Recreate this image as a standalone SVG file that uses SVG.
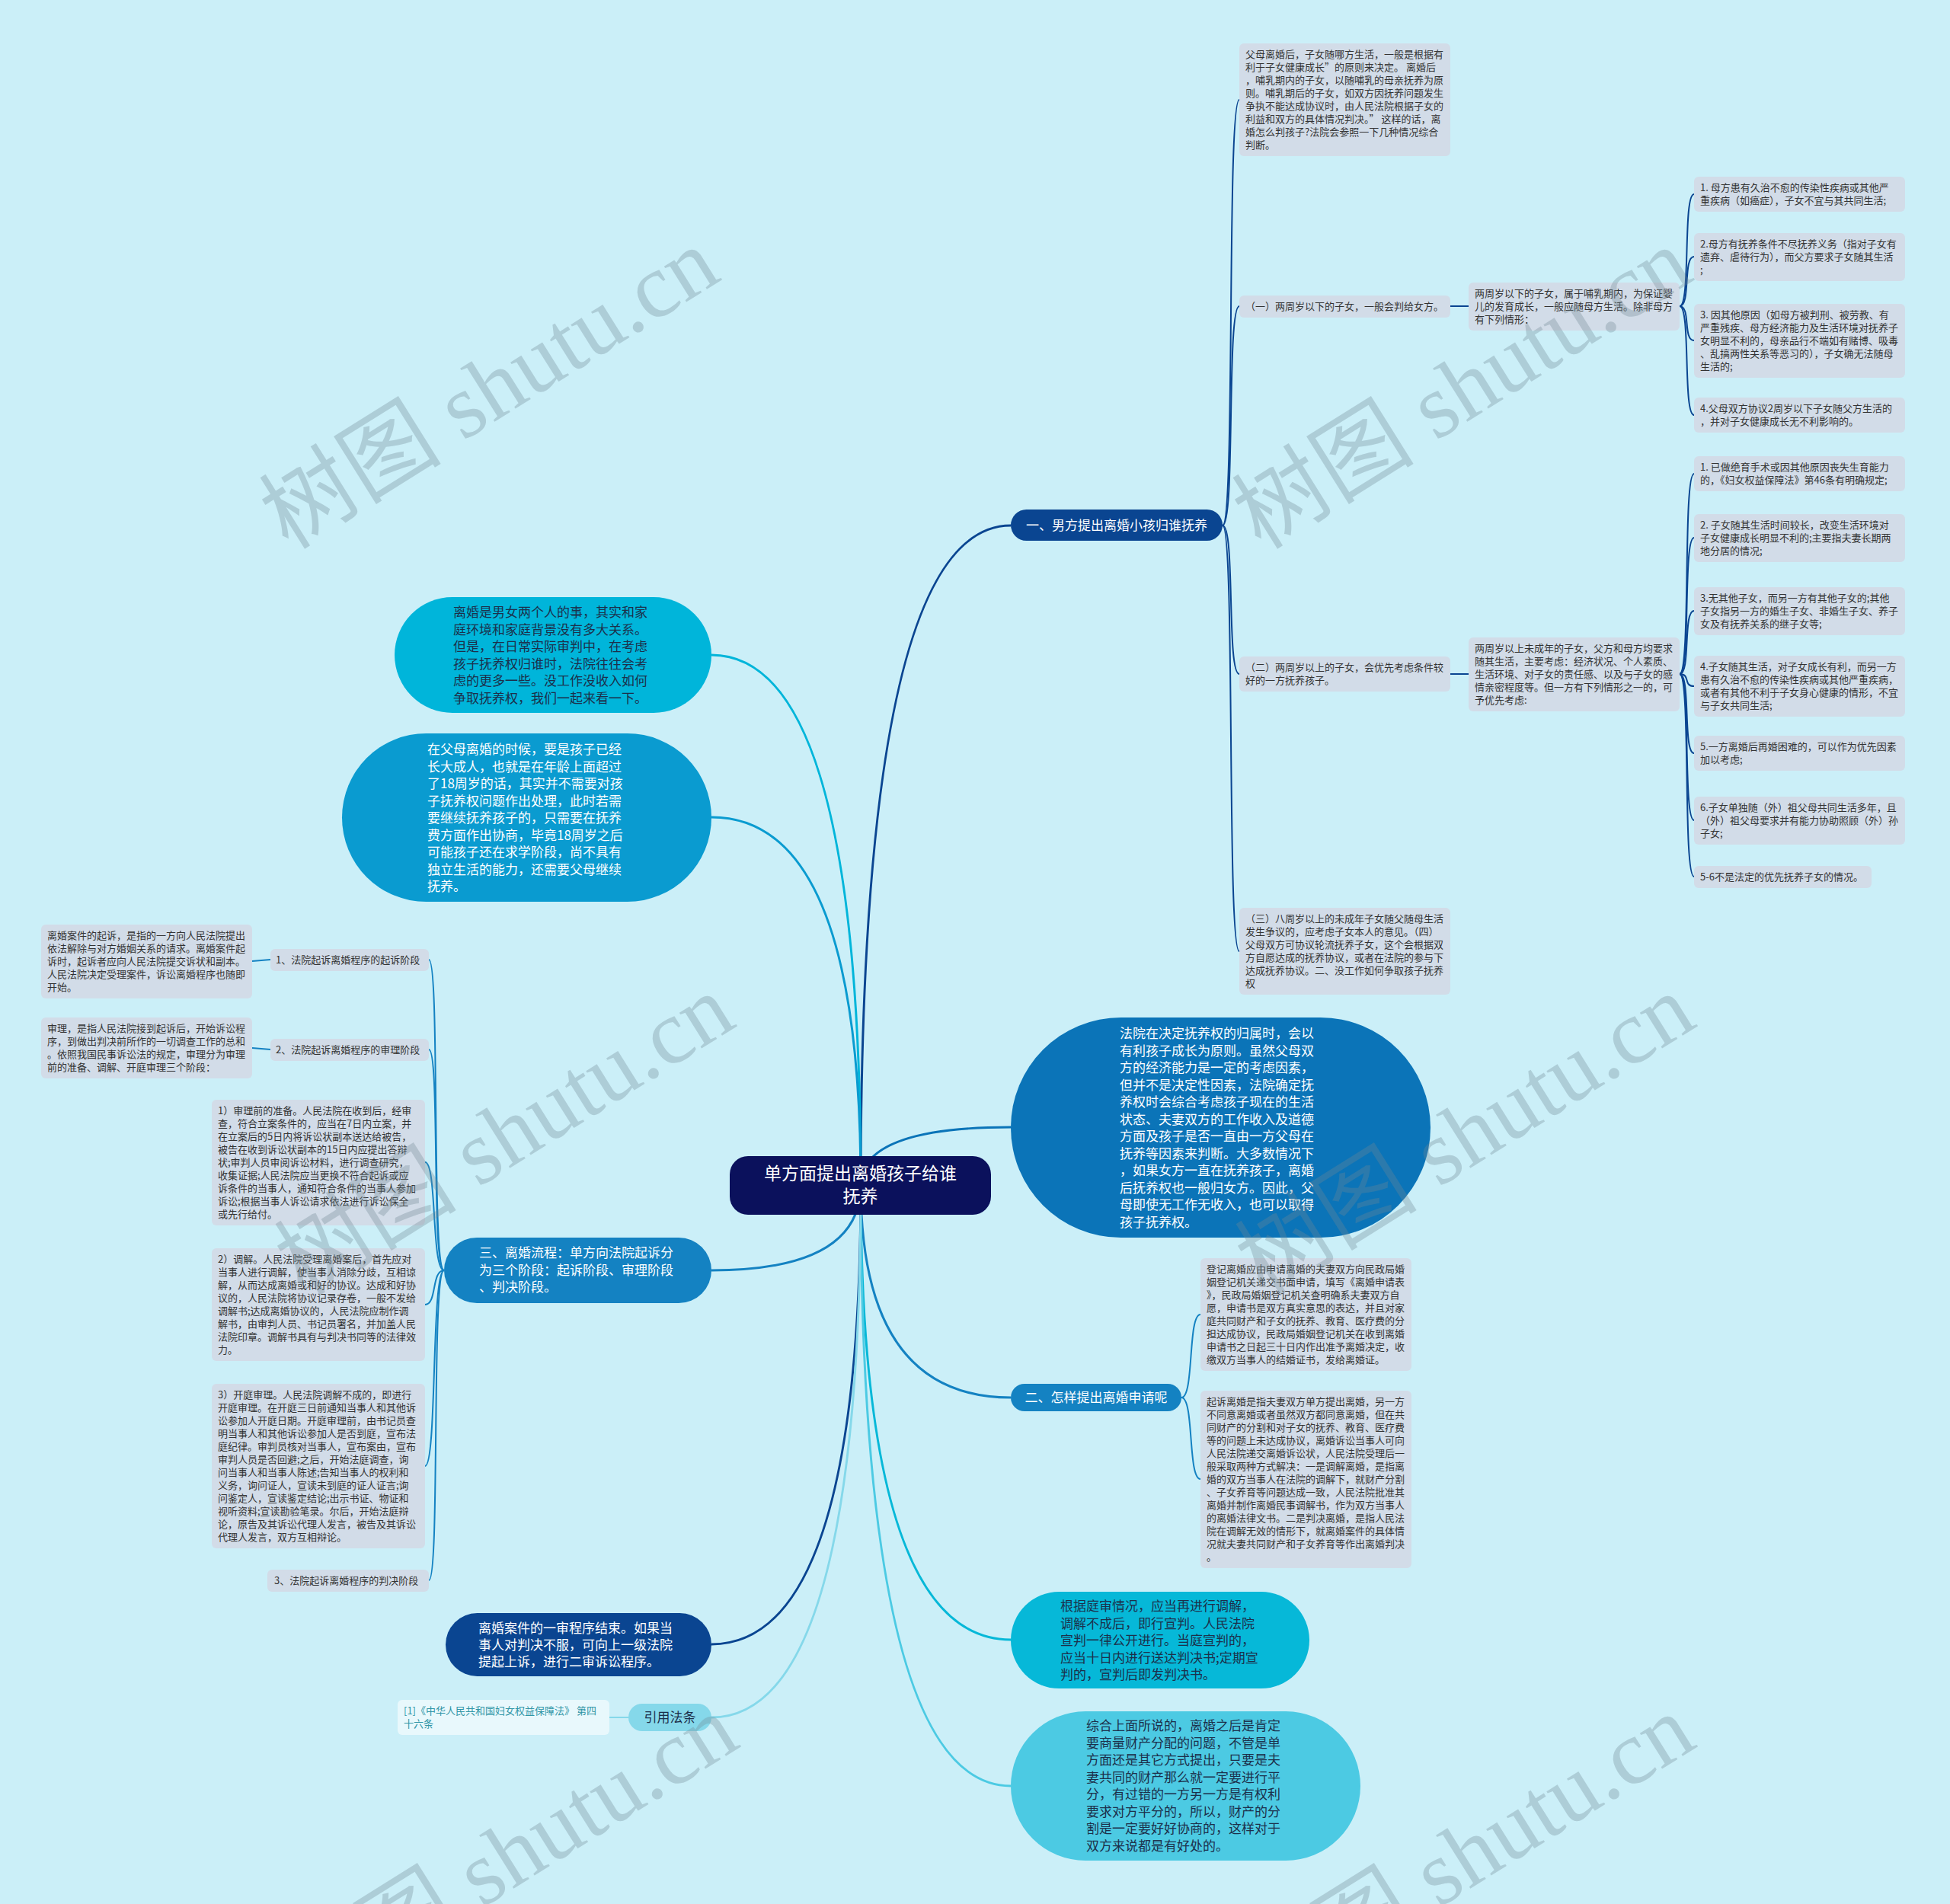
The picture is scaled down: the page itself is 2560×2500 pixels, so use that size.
<svg xmlns="http://www.w3.org/2000/svg" width="2560" height="2500" viewBox="0 0 2560 2500">
<style>
.bx{fill:#d2dce8}
.s{font-family:"Noto Sans CJK SC","Noto Sans",sans-serif;font-size:13px;fill:#333}
.m{font-family:"Noto Sans CJK SC","Noto Sans",sans-serif;font-size:17px}
.w{fill:#fff}
.d{fill:#1c2f4a}
.cn{fill:none;stroke-width:2}
.mc{fill:none;stroke-width:3}
.wm{font-family:"Liberation Serif","Noto Sans CJK SC",serif;font-size:120px;fill:#6f8a94;fill-opacity:0.33}
</style>
<rect width="2560" height="2500" fill="#cbeff8"/>
<g id="connectors">
<path class="mc" stroke="#0a4591" d="M1130,1556 Q1130,690 1327,690"/>
<path class="mc" stroke="#0b74b8" d="M1130,1556 Q1130,1480 1327,1480"/>
<path class="mc" stroke="#1482c2" d="M1130,1556 Q1130,1835 1327,1835"/>
<path class="mc" stroke="#06b8d8" d="M1130,1556 Q1130,2153 1327,2153"/>
<path class="mc" stroke="#4ccae3" d="M1130,1556 Q1130,2345 1327,2345"/>
<path class="mc" stroke="#00b5da" d="M1130,1556 Q1130,860 934,860"/>
<path class="mc" stroke="#0a9bd0" d="M1130,1556 Q1130,1073 934,1073"/>
<path class="mc" stroke="#1482c2" d="M1130,1556 Q1130,1668 934,1668"/>
<path class="mc" stroke="#0a4591" d="M1130,1556 Q1130,2159 934,2159"/>
<path class="mc" stroke="#85d8ea" d="M1130,1556 Q1130,2255 934,2255"/>
<g stroke="#0a4591">
<path class="cn" d="M1605,690 C1622,690 1610,131 1627,131"/>
<path class="cn" d="M1605,690 C1622,690 1610,402 1627,402"/>
<path class="cn" d="M1605,690 C1622,690 1610,885 1627,885"/>
<path class="cn" d="M1605,690 C1622,690 1610,1249 1627,1249"/>
<path class="cn" d="M1904,402 L1928,402"/>
<path class="cn" d="M2205,402 C2220,402 2209,255 2224,255"/>
<path class="cn" d="M2205,402 C2220,402 2209,337 2224,337"/>
<path class="cn" d="M2205,402 C2220,402 2209,447 2224,447"/>
<path class="cn" d="M2205,402 C2220,402 2209,545 2224,545"/>
<path class="cn" d="M1904,885 L1928,885"/>
<path class="cn" d="M2205,885 C2220,885 2209,622 2224,622"/>
<path class="cn" d="M2205,885 C2220,885 2209,706 2224,706"/>
<path class="cn" d="M2205,885 C2220,885 2209,802 2224,802"/>
<path class="cn" d="M2205,885 C2220,885 2209,901 2224,901"/>
<path class="cn" d="M2205,885 C2220,885 2209,989 2224,989"/>
<path class="cn" d="M2205,885 C2220,885 2209,1077 2224,1077"/>
<path class="cn" d="M2205,885 C2220,885 2209,1151 2224,1151"/>
</g>
<g stroke="#1482c2">
<path class="cn" d="M1551,1835 C1568,1835 1559,1726 1576,1726"/>
<path class="cn" d="M1551,1835 C1568,1835 1559,1942 1576,1942"/>
<path class="cn" d="M583,1668 C566,1668 578,1260 563,1260"/>
<path class="cn" d="M583,1668 C566,1668 578,1378 563,1378"/>
<path class="cn" d="M583,1668 C566,1668 574,1526 558,1526"/>
<path class="cn" d="M583,1668 C566,1668 574,1713 558,1713"/>
<path class="cn" d="M583,1668 C566,1668 574,1925 558,1925"/>
<path class="cn" d="M583,1668 C566,1668 578,2075 563,2075"/>
<path class="cn" d="M355,1260 L331,1262"/>
<path class="cn" d="M355,1378 L331,1376"/>
</g>
<path class="cn" stroke="#85d8ea" d="M825,2255 L800,2255"/>
</g>

<g id="center">
<rect x="958" y="1518" width="343" height="77" rx="24" fill="#0b115c"/>
<text class="m w" style="font-size:23px" text-anchor="middle"><tspan x="1129.5" y="1549">单方面提出离婚孩子给谁</tspan><tspan x="1129.5" y="1579">抚养</tspan></text>
</g>

<g id="n-branch1">
<rect x="1327" y="669" width="278" height="41" rx="20.5" fill="#0a4591"/>
<text class="m w" x="1466" y="696" text-anchor="middle">一、男方提出离婚小孩归谁抚养</text>
</g>

<g id="n-t1">
<rect class="bx" x="1627" y="57" width="277" height="148" rx="6"/>
<text class="s"><tspan x="1635" y="76">父母离婚后，子女随哪方生活，一般是根据有</tspan><tspan x="1635" dy="17">利于子女健康成长”的原则来决定。 离婚后</tspan><tspan x="1635" dy="17">，哺乳期内的子女，以随哺乳的母亲抚养为原</tspan><tspan x="1635" dy="17">则。哺乳期后的子女，如双方因抚养问题发生</tspan><tspan x="1635" dy="17">争执不能达成协议时，由人民法院根据子女的</tspan><tspan x="1635" dy="17">利益和双方的具体情况判决。” 这样的话，离</tspan><tspan x="1635" dy="17">婚怎么判孩子?法院会参照一下几种情况综合</tspan><tspan x="1635" dy="17">判断。</tspan></text>
</g>

<g id="n-yi">
<rect class="bx" x="1627" y="388" width="277" height="29" rx="6"/>
<text class="s" x="1635" y="407">（一）两周岁以下的子女，一般会判给女方。</text>
</g>

<g id="n-yi-a">
<rect class="bx" x="1928" y="371" width="277" height="63" rx="6"/>
<text class="s"><tspan x="1936" y="390">两周岁以下的子女，属于哺乳期内，为保证婴</tspan><tspan x="1936" dy="17">儿的发育成长，一般应随母方生活。除非母方</tspan><tspan x="1936" dy="17">有下列情形：</tspan></text>
</g>

<g id="n-i1">
<rect class="bx" x="2224" y="232" width="277" height="46" rx="6"/>
<text class="s"><tspan x="2232" y="251">1. 母方患有久治不愈的传染性疾病或其他严</tspan><tspan x="2232" dy="17">重疾病（如癌症），子女不宜与其共同生活;</tspan></text>
</g>
<g id="n-i2">
<rect class="bx" x="2224" y="306" width="277" height="63" rx="6"/>
<text class="s"><tspan x="2232" y="325">2.母方有抚养条件不尽抚养义务（指对子女有</tspan><tspan x="2232" dy="17">遗弃、虐待行为），而父方要求子女随其生活</tspan><tspan x="2232" dy="17">;</tspan></text>
</g>
<g id="n-i3">
<rect class="bx" x="2224" y="399" width="277" height="97" rx="6"/>
<text class="s"><tspan x="2232" y="418">3. 因其他原因（如母方被判刑、被劳教、有</tspan><tspan x="2232" dy="17">严重残疾、母方经济能力及生活环境对抚养子</tspan><tspan x="2232" dy="17">女明显不利的，母亲品行不端如有赌博、吸毒</tspan><tspan x="2232" dy="17">、乱搞两性关系等恶习的），子女确无法随母</tspan><tspan x="2232" dy="17">生活的;</tspan></text>
</g>
<g id="n-i4">
<rect class="bx" x="2224" y="522" width="277" height="46" rx="6"/>
<text class="s"><tspan x="2232" y="541">4.父母双方协议2周岁以下子女随父方生活的</tspan><tspan x="2232" dy="17">，并对子女健康成长无不利影响的。</tspan></text>
</g>

<g id="n-er">
<rect class="bx" x="1627" y="862" width="277" height="46" rx="6"/>
<text class="s"><tspan x="1635" y="881">（二）两周岁以上的子女，会优先考虑条件较</tspan><tspan x="1635" dy="17">好的一方抚养孩子。</tspan></text>
</g>

<g id="n-er-a">
<rect class="bx" x="1928" y="837" width="277" height="97" rx="6"/>
<text class="s"><tspan x="1936" y="856">两周岁以上未成年的子女，父方和母方均要求</tspan><tspan x="1936" dy="17">随其生活，主要考虑：经济状况、个人素质、</tspan><tspan x="1936" dy="17">生活环境、对子女的责任感、以及与子女的感</tspan><tspan x="1936" dy="17">情亲密程度等。但一方有下列情形之一的，可</tspan><tspan x="1936" dy="17">予优先考虑:</tspan></text>
</g>

<g id="n-j1">
<rect class="bx" x="2224" y="599" width="277" height="46" rx="6"/>
<text class="s"><tspan x="2232" y="618">1. 已做绝育手术或因其他原因丧失生育能力</tspan><tspan x="2232" dy="17">的，《妇女权益保障法》第46条有明确规定;</tspan></text>
</g>
<g id="n-j2">
<rect class="bx" x="2224" y="675" width="277" height="63" rx="6"/>
<text class="s"><tspan x="2232" y="694">2. 子女随其生活时间较长，改变生活环境对</tspan><tspan x="2232" dy="17">子女健康成长明显不利的;主要指夫妻长期两</tspan><tspan x="2232" dy="17">地分居的情况;</tspan></text>
</g>
<g id="n-j3">
<rect class="bx" x="2224" y="771" width="277" height="63" rx="6"/>
<text class="s"><tspan x="2232" y="790">3.无其他子女，而另一方有其他子女的;其他</tspan><tspan x="2232" dy="17">子女指另一方的婚生子女、非婚生子女、养子</tspan><tspan x="2232" dy="17">女及有抚养关系的继子女等;</tspan></text>
</g>
<g id="n-j4">
<rect class="bx" x="2224" y="861" width="277" height="80" rx="6"/>
<text class="s"><tspan x="2232" y="880">4.子女随其生活，对子女成长有利，而另一方</tspan><tspan x="2232" dy="17">患有久治不愈的传染性疾病或其他严重疾病，</tspan><tspan x="2232" dy="17">或者有其他不利于子女身心健康的情形，不宜</tspan><tspan x="2232" dy="17">与子女共同生活;</tspan></text>
</g>
<g id="n-j5">
<rect class="bx" x="2224" y="966" width="277" height="46" rx="6"/>
<text class="s"><tspan x="2232" y="985">5.一方离婚后再婚困难的，可以作为优先因素</tspan><tspan x="2232" dy="17">加以考虑;</tspan></text>
</g>
<g id="n-j6">
<rect class="bx" x="2224" y="1046" width="277" height="63" rx="6"/>
<text class="s"><tspan x="2232" y="1065">6.子女单独随（外）祖父母共同生活多年，且</tspan><tspan x="2232" dy="17">（外）祖父母要求并有能力协助照顾（外）孙</tspan><tspan x="2232" dy="17">子女;</tspan></text>
</g>
<g id="n-j7">
<rect class="bx" x="2224" y="1137" width="233" height="29" rx="6"/>
<text class="s" x="2232" y="1156">5-6不是法定的优先抚养子女的情况。</text>
</g>

<g id="n-san">
<rect class="bx" x="1627" y="1192" width="277" height="114" rx="6"/>
<text class="s"><tspan x="1635" y="1211">（三）八周岁以上的未成年子女随父随母生活</tspan><tspan x="1635" dy="17">发生争议的，应考虑子女本人的意见。（四）</tspan><tspan x="1635" dy="17">父母双方可协议轮流抚养子女，这个会根据双</tspan><tspan x="1635" dy="17">方自愿达成的抚养协议，或者在法院的参与下</tspan><tspan x="1635" dy="17">达成抚养协议。二、没工作如何争取孩子抚养</tspan><tspan x="1635" dy="17">权</tspan></text>
</g>

<g id="n-court">
<rect x="1327" y="1336" width="551" height="289" rx="144.5" fill="#0b74b8"/>
<text class="m w"><tspan x="1470" y="1363">法院在决定抚养权的归属时，会以</tspan><tspan x="1470" dy="22.5">有利孩子成长为原则。虽然父母双</tspan><tspan x="1470" dy="22.5">方的经济能力是一定的考虑因素，</tspan><tspan x="1470" dy="22.5">但并不是决定性因素，法院确定抚</tspan><tspan x="1470" dy="22.5">养权时会综合考虑孩子现在的生活</tspan><tspan x="1470" dy="22.5">状态、夫妻双方的工作收入及道德</tspan><tspan x="1470" dy="22.5">方面及孩子是否一直由一方父母在</tspan><tspan x="1470" dy="22.5">抚养等因素来判断。大多数情况下</tspan><tspan x="1470" dy="22.5">，如果女方一直在抚养孩子，离婚</tspan><tspan x="1470" dy="22.5">后抚养权也一般归女方。因此，父</tspan><tspan x="1470" dy="22.5">母即使无工作无收入，也可以取得</tspan><tspan x="1470" dy="22.5">孩子抚养权。</tspan></text>
</g>

<g id="n-branch2">
<rect x="1327" y="1817" width="224" height="36" rx="18" fill="#1482c2"/>
<text class="m w" x="1439" y="1841" text-anchor="middle">二、怎样提出离婚申请呢</text>
</g>

<g id="n-dengji">
<rect class="bx" x="1576" y="1652" width="277" height="148" rx="6"/>
<text class="s"><tspan x="1584" y="1671">登记离婚应由申请离婚的夫妻双方向民政局婚</tspan><tspan x="1584" dy="17">姻登记机关递交书面申请，填写《离婚申请表</tspan><tspan x="1584" dy="17">》，民政局婚姻登记机关查明确系夫妻双方自</tspan><tspan x="1584" dy="17">愿，申请书是双方真实意思的表达，并且对家</tspan><tspan x="1584" dy="17">庭共同财产和子女的抚养、教育、医疗费的分</tspan><tspan x="1584" dy="17">担达成协议，民政局婚姻登记机关在收到离婚</tspan><tspan x="1584" dy="17">申请书之日起三十日内作出准予离婚决定，收</tspan><tspan x="1584" dy="17">缴双方当事人的结婚证书，发给离婚证。</tspan></text>
</g>

<g id="n-qisu">
<rect class="bx" x="1576" y="1826" width="277" height="233" rx="6"/>
<text class="s"><tspan x="1584" y="1845">起诉离婚是指夫妻双方单方提出离婚，另一方</tspan><tspan x="1584" dy="17">不同意离婚或者虽然双方都同意离婚，但在共</tspan><tspan x="1584" dy="17">同财产的分割和对子女的抚养、教育、医疗费</tspan><tspan x="1584" dy="17">等的问题上未达成协议，离婚诉讼当事人可向</tspan><tspan x="1584" dy="17">人民法院递交离婚诉讼状，人民法院受理后一</tspan><tspan x="1584" dy="17">般采取两种方式解决：一是调解离婚，是指离</tspan><tspan x="1584" dy="17">婚的双方当事人在法院的调解下，就财产分割</tspan><tspan x="1584" dy="17">、子女养育等问题达成一致，人民法院批准其</tspan><tspan x="1584" dy="17">离婚并制作离婚民事调解书，作为双方当事人</tspan><tspan x="1584" dy="17">的离婚法律文书。二是判决离婚，是指人民法</tspan><tspan x="1584" dy="17">院在调解无效的情形下，就离婚案件的具体情</tspan><tspan x="1584" dy="17">况就夫妻共同财产和子女养育等作出离婚判决</tspan><tspan x="1584" dy="17">。</tspan></text>
</g>

<g id="n-tingshen">
<rect x="1327" y="2090" width="392" height="127" rx="63.5" fill="#06b8d8"/>
<text class="m d"><tspan x="1392" y="2115">根据庭审情况，应当再进行调解，</tspan><tspan x="1392" dy="22.5">调解不成后，即行宣判。人民法院</tspan><tspan x="1392" dy="22.5">宣判一律公开进行。当庭宣判的，</tspan><tspan x="1392" dy="22.5">应当十日内进行送达判决书;定期宣</tspan><tspan x="1392" dy="22.5">判的，宣判后即发判决书。</tspan></text>
</g>

<g id="n-zonghe">
<rect x="1327" y="2247" width="459" height="196" rx="98" fill="#4ccae3"/>
<text class="m d"><tspan x="1426" y="2272">综合上面所说的，离婚之后是肯定</tspan><tspan x="1426" dy="22.5">要商量财产分配的问题，不管是单</tspan><tspan x="1426" dy="22.5">方面还是其它方式提出，只要是夫</tspan><tspan x="1426" dy="22.5">妻共同的财产那么就一定要进行平</tspan><tspan x="1426" dy="22.5">分，有过错的一方另一方是有权利</tspan><tspan x="1426" dy="22.5">要求对方平分的，所以，财产的分</tspan><tspan x="1426" dy="22.5">割是一定要好好协商的，这样对于</tspan><tspan x="1426" dy="22.5">双方来说都是有好处的。</tspan></text>
</g>

<g id="n-intro">
<rect x="518" y="784" width="416" height="152" rx="76" fill="#00b5da"/>
<text class="m d"><tspan x="595" y="810">离婚是男女两个人的事，其实和家</tspan><tspan x="595" dy="22.5">庭环境和家庭背景没有多大关系。</tspan><tspan x="595" dy="22.5">但是，在日常实际审判中，在考虑</tspan><tspan x="595" dy="22.5">孩子抚养权归谁时，法院往往会考</tspan><tspan x="595" dy="22.5">虑的更多一些。没工作没收入如何</tspan><tspan x="595" dy="22.5">争取抚养权，我们一起来看一下。</tspan></text>
</g>

<g id="n-adult">
<rect x="449" y="963" width="485" height="221" rx="110.5" fill="#0a9bd0"/>
<text class="m w"><tspan x="561" y="990">在父母离婚的时候，要是孩子已经</tspan><tspan x="561" dy="22.5">长大成人，也就是在年龄上面超过</tspan><tspan x="561" dy="22.5">了18周岁的话，其实并不需要对孩</tspan><tspan x="561" dy="22.5">子抚养权问题作出处理，此时若需</tspan><tspan x="561" dy="22.5">要继续抚养孩子的，只需要在抚养</tspan><tspan x="561" dy="22.5">费方面作出协商，毕竟18周岁之后</tspan><tspan x="561" dy="22.5">可能孩子还在求学阶段，尚不具有</tspan><tspan x="561" dy="22.5">独立生活的能力，还需要父母继续</tspan><tspan x="561" dy="22.5">抚养。</tspan></text>
</g>

<g id="n-branch3">
<rect x="583" y="1625" width="351" height="86" rx="43" fill="#1482c2"/>
<text class="m w"><tspan x="629" y="1651">三、离婚流程：单方向法院起诉分</tspan><tspan x="629" dy="22.5">为三个阶段：起诉阶段、审理阶段</tspan><tspan x="629" dy="22.5">、判决阶段。</tspan></text>
</g>

<g id="n-s1">
<rect class="bx" x="355" y="1246" width="208" height="29" rx="6"/>
<text class="s" x="362" y="1265">1、法院起诉离婚程序的起诉阶段</text>
</g>
<g id="n-s1-d">
<rect class="bx" x="54" y="1214" width="277" height="97" rx="6"/>
<text class="s"><tspan x="62" y="1233">离婚案件的起诉，是指的一方向人民法院提出</tspan><tspan x="62" dy="17">依法解除与对方婚姻关系的请求。离婚案件起</tspan><tspan x="62" dy="17">诉时，起诉者应向人民法院提交诉状和副本。</tspan><tspan x="62" dy="17">人民法院决定受理案件，诉讼离婚程序也随即</tspan><tspan x="62" dy="17">开始。</tspan></text>
</g>
<g id="n-s2">
<rect class="bx" x="355" y="1364" width="208" height="29" rx="6"/>
<text class="s" x="362" y="1383">2、法院起诉离婚程序的审理阶段</text>
</g>
<g id="n-s2-d">
<rect class="bx" x="54" y="1336" width="277" height="80" rx="6"/>
<text class="s"><tspan x="62" y="1355">审理，是指人民法院接到起诉后，开始诉讼程</tspan><tspan x="62" dy="17">序，到做出判决前所作的一切调查工作的总和</tspan><tspan x="62" dy="17">。依照我国民事诉讼法的规定，审理分为审理</tspan><tspan x="62" dy="17">前的准备、调解、开庭审理三个阶段：</tspan></text>
</g>
<g id="n-p1">
<rect class="bx" x="278" y="1444" width="280" height="165" rx="6"/>
<text class="s"><tspan x="286" y="1463">1）审理前的准备。人民法院在收到后，经审</tspan><tspan x="286" dy="17">查，符合立案条件的，应当在7日内立案，并</tspan><tspan x="286" dy="17">在立案后的5日内将诉讼状副本送达给被告，</tspan><tspan x="286" dy="17">被告在收到诉讼状副本的15日内应提出答辩</tspan><tspan x="286" dy="17">状;审判人员审阅诉讼材料，进行调查研究，</tspan><tspan x="286" dy="17">收集证据;人民法院应当更换不符合起诉或应</tspan><tspan x="286" dy="17">诉条件的当事人，通知符合条件的当事人参加</tspan><tspan x="286" dy="17">诉讼;根据当事人诉讼请求依法进行诉讼保全</tspan><tspan x="286" dy="17">或先行给付。</tspan></text>
</g>
<g id="n-p2">
<rect class="bx" x="278" y="1639" width="280" height="148" rx="6"/>
<text class="s"><tspan x="286" y="1658">2）调解。人民法院受理离婚案后，首先应对</tspan><tspan x="286" dy="17">当事人进行调解，使当事人消除分歧，互相谅</tspan><tspan x="286" dy="17">解，从而达成离婚或和好的协议。达成和好协</tspan><tspan x="286" dy="17">议的，人民法院将协议记录存卷，一般不发给</tspan><tspan x="286" dy="17">调解书;达成离婚协议的，人民法院应制作调</tspan><tspan x="286" dy="17">解书，由审判人员、书记员署名，并加盖人民</tspan><tspan x="286" dy="17">法院印章。调解书具有与判决书同等的法律效</tspan><tspan x="286" dy="17">力。</tspan></text>
</g>
<g id="n-p3">
<rect class="bx" x="278" y="1817" width="280" height="216" rx="6"/>
<text class="s"><tspan x="286" y="1836">3）开庭审理。人民法院调解不成的，即进行</tspan><tspan x="286" dy="17">开庭审理。在开庭三日前通知当事人和其他诉</tspan><tspan x="286" dy="17">讼参加人开庭日期。开庭审理前，由书记员查</tspan><tspan x="286" dy="17">明当事人和其他诉讼参加人是否到庭，宣布法</tspan><tspan x="286" dy="17">庭纪律。审判员核对当事人，宣布案由，宣布</tspan><tspan x="286" dy="17">审判人员是否回避;之后，开始法庭调查，询</tspan><tspan x="286" dy="17">问当事人和当事人陈述;告知当事人的权利和</tspan><tspan x="286" dy="17">义务，询问证人，宣读未到庭的证人证言;询</tspan><tspan x="286" dy="17">问鉴定人，宣读鉴定结论;出示书证、物证和</tspan><tspan x="286" dy="17">视听资料;宣读勘验笔录。尔后，开始法庭辩</tspan><tspan x="286" dy="17">论，原告及其诉讼代理人发言，被告及其诉讼</tspan><tspan x="286" dy="17">代理人发言，双方互相辩论。</tspan></text>
</g>
<g id="n-s3">
<rect class="bx" x="351" y="2061" width="212" height="29" rx="6"/>
<text class="s" x="360" y="2080">3、法院起诉离婚程序的判决阶段</text>
</g>

<g id="n-appeal">
<rect x="585" y="2118" width="349" height="83" rx="41.5" fill="#0a4591"/>
<text class="m w"><tspan x="628" y="2144">离婚案件的一审程序结束。如果当</tspan><tspan x="628" dy="22">事人对判决不服，可向上一级法院</tspan><tspan x="628" dy="22">提起上诉，进行二审诉讼程序。</tspan></text>
</g>

<g id="n-law">
<rect x="825" y="2237" width="109" height="36" rx="18" fill="#85d8ea"/>
<text class="m d" x="879.5" y="2261" text-anchor="middle">引用法条</text>
</g>
<g id="n-cite">
<rect x="522" y="2232" width="278" height="46" rx="6" fill="#e8f8fc"/>
<text class="s" style="fill:#2f95a6"><tspan x="530" y="2251">[1]《中华人民共和国妇女权益保障法》 第四</tspan><tspan x="530" dy="17">十六条</tspan></text>
</g>

<g id="watermark" class="wm" text-anchor="middle">
<text x="645" y="550" transform="rotate(-32 645 514)">树图 shutu.cn</text>
<text x="1922" y="550" transform="rotate(-32 1922 514)">树图 shutu.cn</text>
<text x="665" y="1530" transform="rotate(-32 665 1494)">树图 shutu.cn</text>
<text x="1926" y="1530" transform="rotate(-32 1926 1494)">树图 shutu.cn</text>
<text x="670" y="2476" transform="rotate(-32 670 2440)">树图 shutu.cn</text>
<text x="1926" y="2476" transform="rotate(-32 1926 2440)">树图 shutu.cn</text>
</g>
</svg>
